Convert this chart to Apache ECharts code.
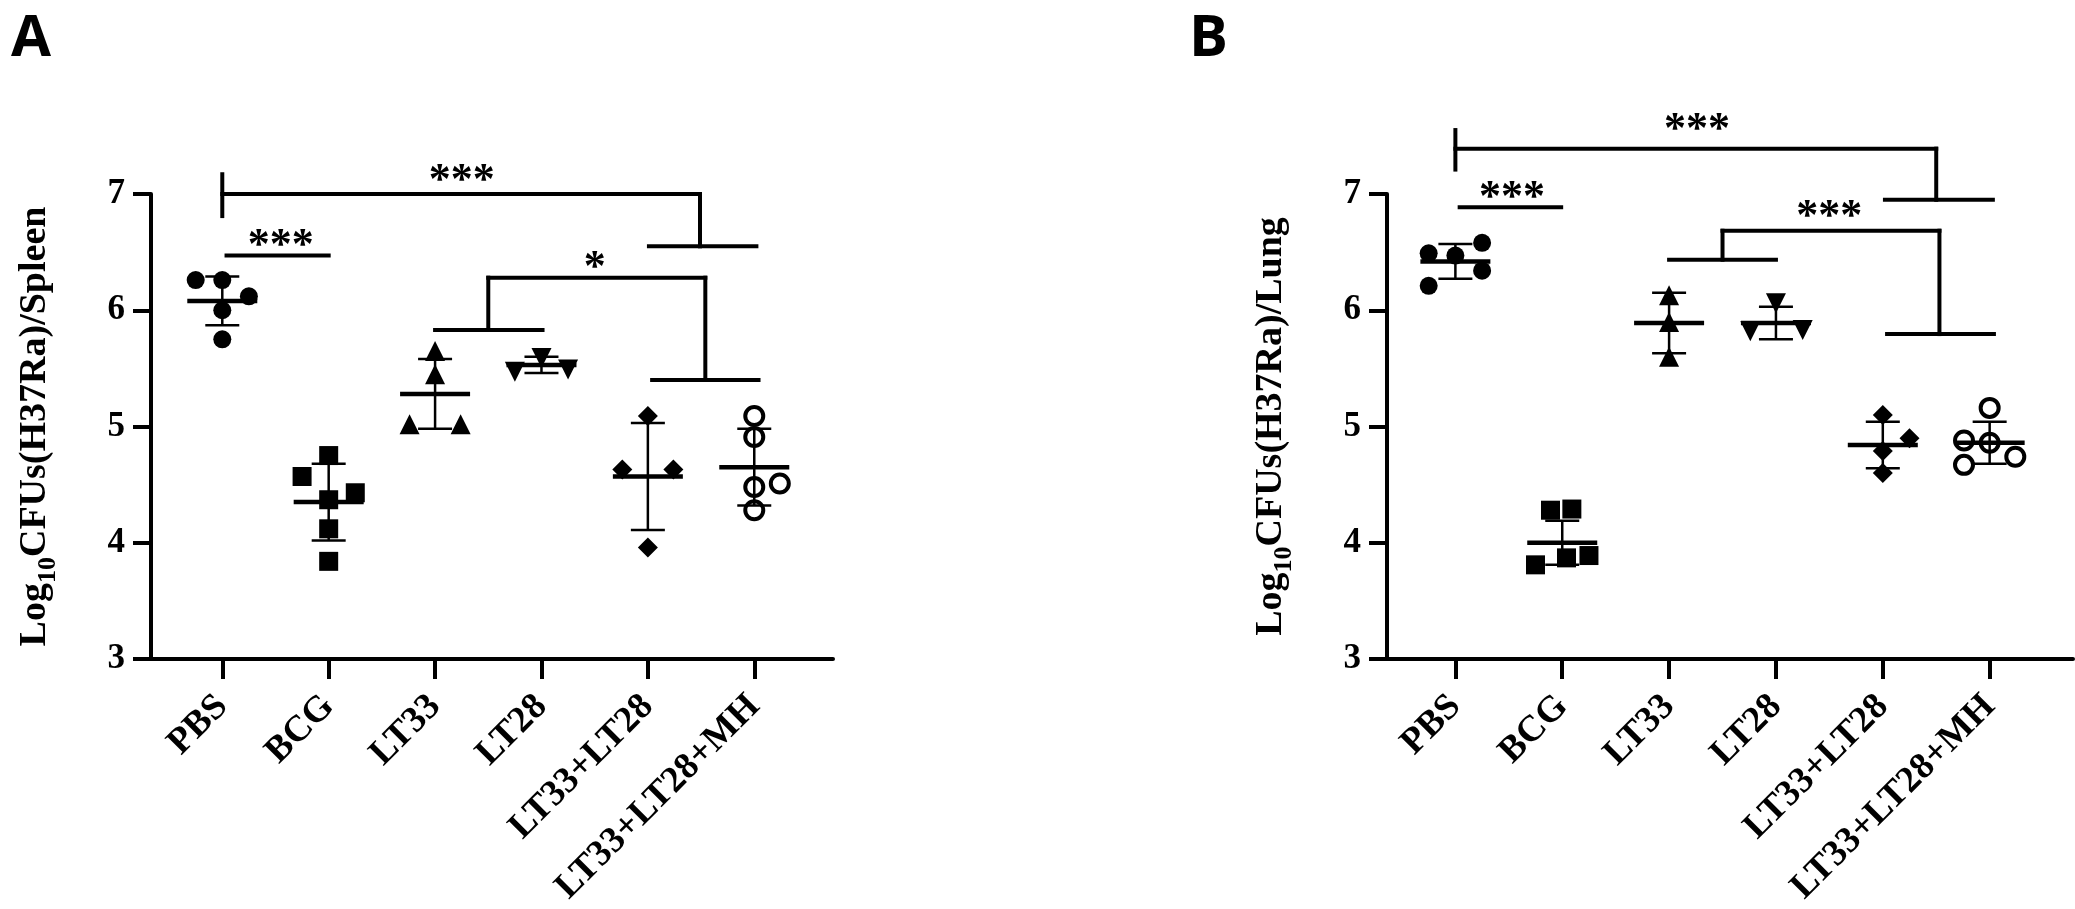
<!DOCTYPE html>
<html>
<head>
<meta charset="utf-8">
<title>CFU spleen / lung</title>
<script src="https://cdn.jsdelivr.net/npm/echarts@6.0.0/dist/echarts.min.js"></script>
<style>
html, body { margin: 0; padding: 0; background: #fff; }
#main { width: 2075px; height: 909px; }
</style>
</head>
<body>
<div id="main"></div>
<script>
// 组别 / 刻度
var categories = ['PBS', 'BCG', 'LT33', 'LT28', 'LT33+LT28', 'LT33+LT28+MH'];
var xTicks = [0, 1, 2, 3, 4, 5];

// A 脾脏: [x位置(含抖动), log10 CFU]
var spleenPBS  = [[-0.25, 6.26], [0, 6.26], [0.25, 6.12], [0, 6.00], [0, 5.75]];
var spleenBCG  = [[1, 4.75], [0.75, 4.57], [1.25, 4.43], [1, 4.37], [1, 4.12], [1, 3.84]];
var spleenLT33 = [[2, 5.65], [2, 5.45], [1.76, 5.02], [2.24, 5.02]];
var spleenLT28 = [[3, 5.59], [2.75, 5.47], [3.25, 5.49]];
var spleenMix  = [[4, 5.09], [3.76, 4.63], [4.24, 4.63], [4, 3.96]];
var spleenMH   = [[5, 5.09], [5, 4.91], [5, 4.48], [5.24, 4.51], [5, 4.28]];
var spleenMean = [6.08, 4.35, 5.28, 5.53, 4.57, 4.65];
var spleenSD   = [0.21, 0.33, 0.30, 0.07, 0.46, 0.33];

// B 肺
var lungPBS  = [[-0.25, 6.49], [0, 6.47], [0.25, 6.58], [0.25, 6.34], [-0.25, 6.21]];
var lungBCG  = [[0.89, 4.28], [1.09, 4.29], [0.75, 3.81], [1.04, 3.87], [1.25, 3.89]];
var lungLT33 = [[2, 6.13], [2, 5.90], [2, 5.60]];
var lungLT28 = [[3, 6.06], [2.76, 5.82], [3.25, 5.83]];
var lungMix  = [[4, 5.10], [4.25, 4.90], [4, 4.79], [4, 4.60]];
var lungMH   = [[5, 5.16], [4.76, 4.88], [5, 4.86], [5.24, 4.74], [4.76, 4.67]];
var lungMean = [6.42, 4.00, 5.89, 5.89, 4.84, 4.86];
var lungSD   = [0.15, 0.19, 0.26, 0.14, 0.20, 0.18];

// 显著性括号线段 [x1, y1, x2, y2]
var bracketsA = [
    [0, 7.17, 0, 6.81], [0, 7.0, 4.49, 7.0], [4.49, 7.0, 4.49, 6.55], [4.01, 6.55, 5.02, 6.55],
    [0.04, 6.47, 1.0, 6.47],
    [2.0, 5.83, 3.01, 5.83], [2.5, 5.83, 2.5, 6.28], [2.5, 6.28, 4.54, 6.28],
    [4.54, 6.28, 4.54, 5.40], [4.04, 5.40, 5.04, 5.40]
];
var starsA = [[2.25, 7.19, '***'], [0.55, 6.63, '***'], [3.5, 6.44, '*']];

var bracketsB = [
    [0, 7.55, 0, 7.21], [0, 7.39, 4.5, 7.39], [4.5, 7.39, 4.5, 6.95], [4.02, 6.95, 5.03, 6.95],
    [0.04, 6.885, 0.99, 6.885],
    [2.0, 6.435, 3.0, 6.435], [2.5, 6.435, 2.5, 6.684], [2.5, 6.684, 4.53, 6.684],
    [4.53, 6.684, 4.53, 5.795], [4.04, 5.795, 5.04, 5.795]
];
var starsB = [[2.26, 7.63, '***'], [0.53, 7.05, '***'], [3.5, 6.88, '***']];

var SERIF = '"Liberation Serif", "Times New Roman", serif';

var symbols = [
    {symbol: 'circle', size: 18},
    {symbol: 'rect', size: 19},
    {symbol: 'triangle', size: 20},
    {symbol: 'triangle', size: 20, rotate: 180},
    {symbol: 'diamond', size: 20},
    {symbol: 'circle', size: 18, hollow: true}
];

function pointSeries(idx, groups) {
    return groups.map(function (d, i) {
        var s = symbols[i];
        return {
            type: 'scatter',
            xAxisIndex: idx, yAxisIndex: idx,
            data: d,
            symbol: s.symbol,
            symbolSize: s.size,
            symbolRotate: s.rotate || 0,
            itemStyle: s.hollow
                ? {color: '#fff', borderColor: '#000', borderWidth: 4, opacity: 1}
                : {color: '#000', opacity: 1},
            z: 2
        };
    });
}

// 均值 ± SD
function errorSeries(idx, means, sds) {
    return {
        type: 'custom',
        xAxisIndex: idx, yAxisIndex: idx,
        data: means.map(function (m, i) { return [i, m, sds[i]]; }),
        renderItem: function (params, api) {
            var x = api.value(0), m = api.value(1), sd = api.value(2);
            var c = api.coord([x, m]);
            var t = api.coord([x, m + sd]);
            var b = api.coord([x, m - sd]);
            var thin = {stroke: '#000', lineWidth: 2.5};
            var thick = {stroke: '#000', lineWidth: 4.5};
            return {
                type: 'group',
                children: [
                    {type: 'line', shape: {x1: c[0], y1: t[1], x2: c[0], y2: b[1]}, style: thin},
                    {type: 'line', shape: {x1: c[0] - 17, y1: t[1], x2: c[0] + 17, y2: t[1]}, style: thin},
                    {type: 'line', shape: {x1: c[0] - 17, y1: b[1], x2: c[0] + 17, y2: b[1]}, style: thin},
                    {type: 'line', shape: {x1: c[0] - 35, y1: c[1], x2: c[0] + 35, y2: c[1]}, style: thick}
                ]
            };
        },
        z: 3
    };
}

function bracketSeries(idx, segs) {
    return {
        type: 'custom',
        xAxisIndex: idx, yAxisIndex: idx,
        clip: false,
        data: segs,
        renderItem: function (params, api) {
            var p1 = api.coord([api.value(0), api.value(1)]);
            var p2 = api.coord([api.value(2), api.value(3)]);
            return {
                type: 'line',
                shape: {x1: p1[0], y1: p1[1], x2: p2[0], y2: p2[1]},
                style: {stroke: '#000', lineWidth: 4, lineCap: 'square'}
            };
        }
    };
}

function starSeries(idx, stars) {
    return {
        type: 'custom',
        xAxisIndex: idx, yAxisIndex: idx,
        clip: false,
        data: stars.map(function (s) { return [s[0], s[1]]; }),
        renderItem: function (params, api) {
            var p = api.coord([api.value(0), api.value(1)]);
            return {
                type: 'text',
                x: p[0], y: p[1] + 10,
                style: {
                    text: stars[params.dataIndex][2],
                    font: 'bold 44px ' + SERIF,
                    align: 'center', verticalAlign: 'middle', fill: '#000'
                }
            };
        }
    };
}

function xAxisOf(idx, min, max) {
    return {
        type: 'value', gridIndex: idx, min: min, max: max,
        splitLine: {show: false},
        axisLine: {onZero: false, lineStyle: {color: '#000', width: 4}},
        axisTick: {customValues: xTicks, length: 20, lineStyle: {color: '#000', width: 4}},
        axisLabel: {
            customValues: xTicks, rotate: 45, margin: 42,
            fontFamily: SERIF, fontWeight: 'bold', fontSize: 37, color: '#000',
            formatter: function (v) { return categories[v]; }
        }
    };
}

function yAxisOf(idx, tissue) {
    return {
        type: 'value', gridIndex: idx, min: 3, max: 7, interval: 1,
        splitLine: {show: false},
        axisLine: {show: true, onZero: false, lineStyle: {color: '#000', width: 4}},
        axisTick: {show: true, length: 18, lineStyle: {color: '#000', width: 4}},
        axisLabel: {margin: 26, fontFamily: SERIF, fontWeight: 'bold', fontSize: 35, color: '#000'},
        name: '{a|Log}{b|10}{a|CFUs(H37Ra)/' + tissue + '}',
        nameLocation: 'middle', nameRotate: 90, nameGap: 90,
        nameTextStyle: {
            rich: {
                a: {fontFamily: SERIF, fontWeight: 'bold', fontSize: 38, color: '#000'},
                b: {fontFamily: SERIF, fontWeight: 'bold', fontSize: 26, color: '#000', padding: [26, 0, 0, 0]}
            }
        }
    };
}

var chart = echarts.init(document.getElementById('main'));
chart.setOption({
    animation: false,
    backgroundColor: '#fff',
    title: [
        {text: 'A', left: 6, top: 5, textStyle: {fontFamily: '"Open Sans", sans-serif', fontWeight: 'bold', fontSize: 58, color: '#000'}},
        {text: 'B', left: 1184, top: 5, textStyle: {fontFamily: '"Open Sans", sans-serif', fontWeight: 'bold', fontSize: 58, color: '#000'}}
    ],
    grid: [
        {left: 151, top: 194, width: 682, height: 465},
        {left: 1387, top: 194, width: 686, height: 465}
    ],
    xAxis: [xAxisOf(0, -0.67, 5.74), xAxisOf(1, -0.64, 5.78)],
    yAxis: [yAxisOf(0, 'Spleen'), yAxisOf(1, 'Lung')],
    series: [].concat(
        pointSeries(0, [spleenPBS, spleenBCG, spleenLT33, spleenLT28, spleenMix, spleenMH]),
        [errorSeries(0, spleenMean, spleenSD), bracketSeries(0, bracketsA), starSeries(0, starsA)],
        pointSeries(1, [lungPBS, lungBCG, lungLT33, lungLT28, lungMix, lungMH]),
        [errorSeries(1, lungMean, lungSD), bracketSeries(1, bracketsB), starSeries(1, starsB)]
    )
});
</script>
</body>
</html>
